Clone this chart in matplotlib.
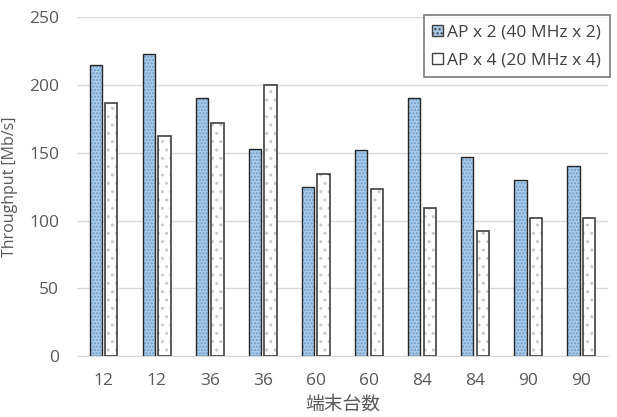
import matplotlib.pyplot as plt
import numpy as np

# data
categories = ['12', '12', '36', '36', '60', '60', '84', '84', '90', '90']
ap2_40mhz = [215, 223, 190, 153, 125, 152, 190, 147, 130, 140]
ap4_20mhz = [187, 162, 172, 200, 134, 123, 109, 92, 102, 102]
series_names = ['AP x 2 (40 MHz x 2)', 'AP x 4 (20 MHz x 4)']

plt.rcParams['font.family'] = ['Open Sans', 'Noto Sans CJK JP', 'DejaVu Sans']
text_color = '#595959'

fig = plt.figure(figsize=(6.17, 4.17), dpi=100)
ax = fig.add_axes([0.125, 0.146, 0.86, 0.813])

x = np.arange(len(categories))
w = 0.23
off = 0.145

# blue bars: fill + dotted hatch, then dark outline on top
ax.bar(x - off, ap2_40mhz, w, color='#A9CBEA', edgecolor='#6E9CC8',
       hatch='.....', linewidth=0, zorder=2)
ax.bar(x - off, ap2_40mhz, w, fill=False, edgecolor='#262626',
       linewidth=1.0, zorder=3)
# white bars: sparse grey dots, grey outline
ax.bar(x + off, ap4_20mhz, w, color='white', edgecolor='#C8C8C8',
       hatch='..', linewidth=0, zorder=2)
ax.bar(x + off, ap4_20mhz, w, fill=False, edgecolor='#404040',
       linewidth=1.2, zorder=3)

# legend proxies
h1 = plt.Rectangle((0, 0), 1, 1, facecolor='#A9CBEA', edgecolor='#404040',
                   hatch='....', linewidth=1)
h2 = plt.Rectangle((0, 0), 1, 1, facecolor='white', edgecolor='#404040',
                   linewidth=1)
leg = ax.legend([h1, h2], series_names, loc='upper right',
                bbox_to_anchor=(1.01, 1.015), fontsize=12.5, frameon=True,
                fancybox=False, handlelength=0.6, handleheight=0.6,
                handletextpad=0.25, borderpad=0.5, labelspacing=0.7,
                borderaxespad=0.2)
leg.get_frame().set_edgecolor('#595959')
leg.get_frame().set_linewidth(1.2)
for t in leg.get_texts():
    t.set_color('#404040')

ax.set_xlim(-0.5, len(categories) - 0.5)
ax.set_ylim(0, 250)
ax.set_yticks(range(0, 251, 50))
ax.set_xticks(x)
ax.set_xticklabels(categories)
ax.yaxis.grid(True, color='#D9D9D9', linewidth=1, zorder=0)
ax.set_axisbelow(True)
for s in ['top', 'right', 'left']:
    ax.spines[s].set_visible(False)
ax.spines['bottom'].set_color('#D9D9D9')
ax.tick_params(axis='both', length=0, labelsize=12.5, colors=text_color)
ax.tick_params(axis='y', pad=13)
ax.tick_params(axis='x', pad=12)

ax.set_ylabel('Throughput [Mb/s]', fontsize=11.5, color=text_color,
              ha='center', va='center')
ax.yaxis.set_label_coords(-0.126, 0.5)
ax.set_xlabel('端末台数', fontsize=13.5, color=text_color, va='top')
ax.xaxis.set_label_coords(0.5, -0.118)

plt.savefig('out.png', dpi=100)
